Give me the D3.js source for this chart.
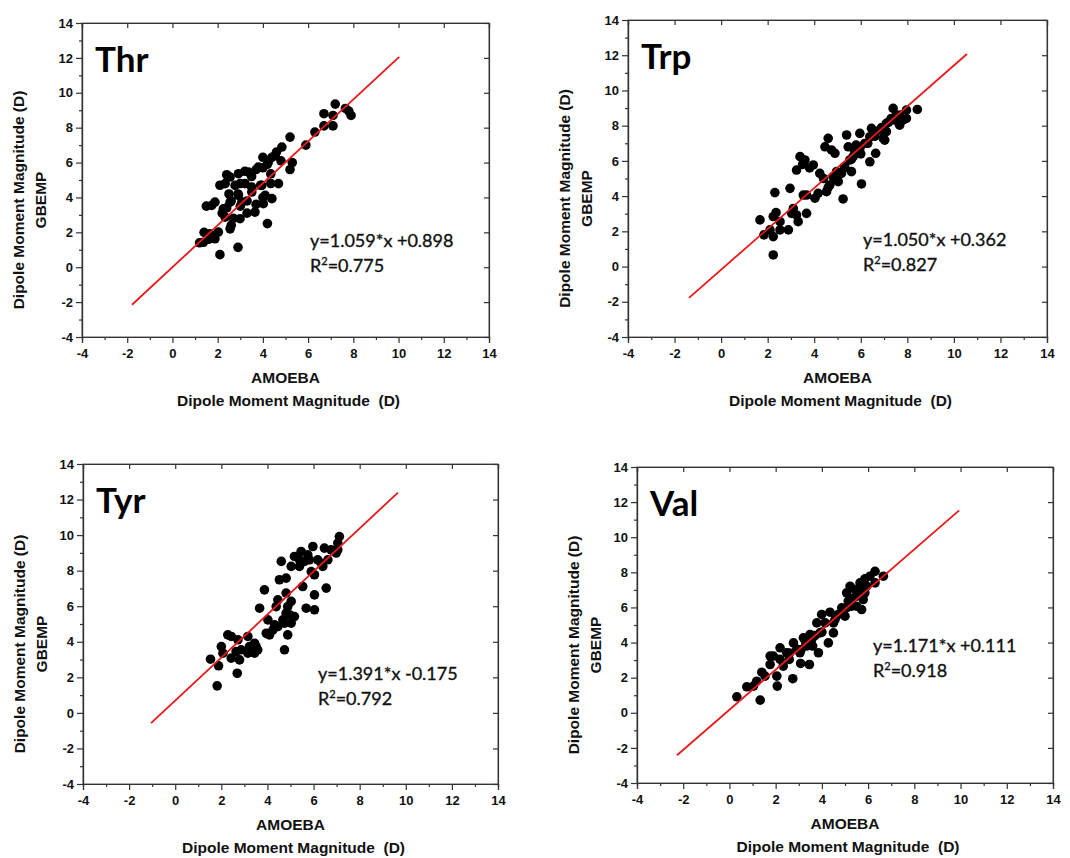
<!DOCTYPE html>
<html>
  <head><meta charset="utf-8"></head>
  <script src="https://d3js.org/d3.v7.min.js" type="text/JavaScript"></script>
  <body style="margin:0;background:#fff">
    <svg></svg>
    <script>
// residue names, one per panel
var residues = ['Thr', 'Trp', 'Tyr', 'Val'];

// AMOEBA (x) vs GBEMP (y) dipole magnitudes
var thrPoints = [
  [1.37,1.43],[1.66,1.91],[1.88,1.63],[2.03,2.01],[2.55,2.2],[2.1,0.72],[2.9,1.14],[2.33,2.87],[2.99,2.78],[4.2,2.5],
  [1.5,3.5],[1.74,3.54],[1.88,3.73],[2.25,3.35],[2.55,3.73],[3.07,3.73],[3.65,3.16],[4.02,3.64],[4.4,3.93],
  [2.92,4.12],[3.51,4.31],[4.1,4.12],[2.33,4.79],[2.77,4.69],[3.21,4.79],[3.95,4.69],[4.69,4.79],
  [2.1,4.7],[2.55,5.17],[2.92,5.36],[3.36,5.45],[3.8,5.74],[4.24,6.03],[4.54,6.41],[4.84,6.89],[4.6,6.6],[4.8,6.1],
  [5.2,7.46],[5.3,6.0],[5.2,5.6],[5.9,7.0],[6.3,7.75],[6.7,8.8],[6.7,8.1],[7.1,8.1],[7.2,9.35],[7.1,8.7],[7.65,9.1],[7.8,8.95],[7.9,8.7],
  [1.2,1.4],[1.4,2.0],[1.6,1.6],[2.6,2.4],[2.7,2.8],[2.2,3.1],[2.4,3.4],[3.0,3.5],[3.3,3.1],[3.3,3.8],[3.5,5.2],[3.5,4.6],
  [3.9,4.7],[4.0,6.3],[4.2,5.9],[4.35,5.35],[4.35,4.8],[4.0,4.0],[3.7,3.6],[2.6,3.8],[2.5,4.2],[2.9,4.2],[3.0,4.8],
  [3.2,5.5],[2.4,5.3],[3.7,5.6],[4.0,5.7],[4.4,6.3]
];
var trpPoints = [
  [1.67,2.65],[1.84,1.8],[2.1,2.08],[2.24,1.7],[2.31,4.2],[2.24,2.84],[2.36,3.06],[2.24,0.66],[2.53,2.55],[2.53,2.08],
  [2.89,2.08],[2.96,4.44],[3.1,3.3],[3.03,3.02],[3.31,2.55],[3.24,2.93],[3.24,5.48],[3.39,6.24],[3.6,6.05],[3.67,4.06],
  [3.67,3.02],[3.53,4.06],[3.96,5.77],[4.03,3.88],[4.17,4.16],[4.24,5.29],[4.46,6.8],[4.6,7.28],[4.74,6.62],[4.89,6.43],
  [4.53,4.25],[4.67,4.63],[4.81,5.1],[4.96,5.39],[5.03,4.82],[5.17,5.29],[5.31,5.67],[5.24,3.84],[5.39,7.47],[5.46,6.8],
  [5.53,6.05],[5.6,5.39],[5.67,6.24],[5.74,6.52],[5.96,7.56],[6.03,4.69],[5.96,6.71],[6.17,6.99],[6.39,7.37],[6.46,7.85],
  [6.39,5.95],[6.64,6.43],[6.81,7.75],[6.96,7.28],[7.03,7.18],[7.1,8.13],[7.31,8.41],[7.39,8.98],[7.53,8.6],[7.67,8.03],
  [7.81,8.32],[7.96,8.88],[7.96,8.41],[8.43,8.92],[7.1,7.66],
  [5.0,4.9],[5.3,5.6],[5.6,6.1],[6.0,6.4],[6.3,7.0],[6.6,7.4],[6.9,7.9],[7.2,8.2],[7.5,8.3],[7.7,8.6],[5.8,6.9],
  [4.4,5.0],[4.6,4.5],[3.5,5.8],[3.8,5.6]
];
var tyrPoints = [
  [1.53,3.02],[1.82,1.52],[1.88,2.65],[2.0,3.73],[2.07,3.36],[2.28,4.39],[2.43,4.3],[2.43,3.08],[2.64,3.45],[2.72,4.11],
  [2.69,2.23],[2.79,2.98],[2.86,3.55],[3.15,4.3],[3.22,3.73],[3.44,3.92],[3.44,3.36],[3.51,3.73],[3.58,3.55],[3.66,5.89],
  [3.87,6.92],[4.02,5.23],[3.95,4.48],[4.09,4.39],[4.31,4.95],[4.45,6.36],[4.52,7.49],[4.6,8.52],[4.67,5.23],[4.74,3.55],
  [4.81,7.58],[4.81,6.74],[4.88,5.98],[4.96,5.52],[5.03,6.27],[4.88,4.39],[5.03,8.24],[5.17,8.8],[5.17,5.42],[5.39,8.61],
  [5.46,9.08],[5.53,7.11],[5.61,8.52],[5.68,5.89],[5.75,8.89],[5.9,7.95],[5.97,9.36],[6.04,6.64],[6.04,5.8],[6.18,8.61],
  [6.33,8.42],[6.4,8.24],[6.47,9.27],[6.55,7.02],[6.62,8.61],[6.76,9.17],[6.98,8.99],[7.05,9.55],[7.12,9.92],[7.05,9.17],
  [6.04,7.77],[5.82,8.61],[5.39,8.24],[4.45,4.86],[4.24,4.67],[4.38,5.98],[4.81,5.61],[5.03,5.05],[4.74,5.05],[3.15,3.36]
];
var valPoints = [
  [0.32,0.91],[0.75,1.48],[1.33,0.72],[1.18,1.8],[1.4,2.31],[1.76,3.23],[1.76,2.75],[1.9,3.23],[2.07,1.52],[2.05,2.09],
  [2.19,3.7],[2.33,2.66],[2.48,3.42],[2.59,3.04],[2.74,1.94],[2.77,3.98],[2.91,3.61],[3.08,2.81],[3.2,4.27],[3.34,3.8],
  [3.46,2.75],[3.49,4.46],[3.56,4.17],[3.78,5.12],[3.85,3.42],[3.92,4.55],[3.99,5.6],[4.14,5.12],[4.28,3.98],[4.35,5.73],
  [4.5,4.55],[4.57,5.31],[4.71,5.6],[4.86,5.98],[5.0,5.5],[5.07,6.83],[5.14,6.36],[5.22,7.21],[5.29,6.07],[5.43,7.02],
  [5.5,6.64],[5.65,7.4],[5.72,5.88],[5.79,6.45],[5.86,7.63],[5.94,7.21],[6.08,7.78],[6.3,8.06],[6.3,7.4],[6.66,7.78],
  [5.86,6.83],[5.5,6.07],[4.5,5.12],[3.6,3.8],[3.05,3.42],[2.19,3.04],[1.54,2.09],[1.04,1.52],
  [4.0,4.6],[4.6,5.5],[5.1,6.0],[5.3,6.5],[5.6,7.0],[3.3,4.0],[2.6,3.4],[3.1,3.6],[3.7,4.4]
];
var allPoints = [thrPoints, trpPoints, tyrPoints, valPoints];

// fitted line as drawn: x0, y0, x1, y1
var fitLines = [
  [-1.79, -2.15, 10.03, 12.06],
  [-1.38, -1.78, 10.56, 12.07],
  [-1.05, -0.58, 9.66, 12.39],
  [-2.27, -2.42, 9.94, 11.53]
];
var equations = ['y=1.059*x +0.898', 'y=1.050*x +0.362', 'y=1.391*x -0.175', 'y=1.171*x +0.111'];
var r2Values = ['0.775', '0.827', '0.792', '0.918'];

var xTicks = [-4, -2, 0, 2, 4, 6, 8, 10, 12, 14];
var yTicks = [-4, -2, 0, 2, 4, 6, 8, 10, 12, 14];
var minorTicks = [-3, -1, 1, 3, 5, 7, 9, 11, 13];
var domain = [-4, 14];

// where each panel sits on the page
var frames = [
  {left: 82,  top: 23,  right: 489,  bottom: 337, eqX: 228, eqY: 224},
  {left: 628, top: 20,  right: 1047, bottom: 337, eqX: 235, eqY: 226},
  {left: 83,  top: 464, right: 498,  bottom: 784, eqX: 235, eqY: 216},
  {left: 637, top: 467, right: 1053, bottom: 783, eqX: 236, eqY: 185}
];

var svg = d3.select('svg')
  .attr('width', 1070)
  .attr('height', 858)
  .style('display', 'block');

svg.append('rect').attr('width', 1070).attr('height', 858).attr('fill', '#fff');

var tickFont = 'Liberation Sans, Arial, sans-serif';
var label = d => String(d);   // plain hyphen minus, as in the figure

residues.forEach((name, i) => {
  var f = frames[i];
  var w = f.right - f.left, h = f.bottom - f.top;
  var x = d3.scaleLinear().domain(domain).range([0, w]);
  var y = d3.scaleLinear().domain(domain).range([h, 0]);

  var g = svg.append('g').attr('transform', `translate(${f.left},${f.top})`);

  // frame
  g.append('rect').attr('width', w).attr('height', h)
    .attr('fill', 'none').attr('stroke', '#777').attr('stroke-width', 1.2);

  // bottom / left: outward ticks
  g.append('g').attr('transform', `translate(0,${h})`)
    .call(d3.axisBottom(x).tickValues(xTicks).tickSize(6).tickPadding(6).tickFormat(label));
  g.append('g').attr('transform', `translate(0,${h})`)
    .call(d3.axisBottom(x).tickValues(minorTicks).tickSize(3).tickFormat(''));
  g.append('g')
    .call(d3.axisLeft(y).tickValues(yTicks).tickSize(6).tickPadding(3).tickFormat(label));
  g.append('g')
    .call(d3.axisLeft(y).tickValues(minorTicks).tickSize(3).tickFormat(''));

  // top / right: inward ticks
  g.append('g')
    .call(d3.axisBottom(x).tickValues(xTicks).tickSize(5).tickFormat(''));
  g.append('g').attr('transform', `translate(${w},0)`)
    .call(d3.axisLeft(y).tickValues(yTicks).tickSize(5).tickFormat(''));

  g.selectAll('.domain').attr('stroke', '#333').attr('stroke-width', 1.2);
  g.selectAll('.tick line').attr('stroke', '#333').attr('stroke-width', 1.2);
  g.selectAll('.tick text')
    .attr('font-family', tickFont).attr('font-weight', 'bold')
    .attr('font-size', 13).attr('fill', '#111');

  // points
  g.selectAll('circle.pt')
    .data(allPoints[i])
    .enter()
    .append('circle')
      .attr('class', 'pt')
      .attr('cx', d => x(d[0]))
      .attr('cy', d => y(d[1]))
      .attr('r', 4.8)
      .attr('fill', '#000');

  // fit line
  var L = fitLines[i];
  g.append('line')
    .attr('x1', x(L[0])).attr('y1', y(L[1]))
    .attr('x2', x(L[2])).attr('y2', y(L[3]))
    .attr('stroke', '#e8191b').attr('stroke-width', 1.8);

  // residue label
  g.append('text')
    .attr('x', 13).attr('y', 49)
    .attr('font-family', 'Lato, Open Sans, sans-serif')
    .attr('font-weight', 'bold').attr('font-size', 35)
    .text(name);

  // equation and R2
  var eqStyle = sel => sel
    .attr('font-family', 'Lato, Open Sans, sans-serif')
    .attr('font-size', 18).attr('fill', '#111')
    .attr('stroke', '#111').attr('stroke-width', 0.35);
  g.append('text')
    .attr('x', f.eqX).attr('y', f.eqY)
    .call(eqStyle)
    .text(equations[i]);
  var r2 = g.append('text')
    .attr('x', f.eqX).attr('y', f.eqY + 25)
    .call(eqStyle);
  r2.append('tspan').text('R');
  r2.append('tspan').attr('font-size', 11).attr('dy', -7).text('2');
  r2.append('tspan').attr('dy', 7).text('=' + r2Values[i]);

  // axis titles
  g.append('text')
    .attr('x', w / 2).attr('y', h + 46)
    .attr('text-anchor', 'middle')
    .attr('font-family', tickFont).attr('font-weight', 'bold').attr('font-size', 15.5)
    .attr('fill', '#111')
    .text('AMOEBA');
  g.append('text')
    .attr('x', w / 2 + 3).attr('y', h + 69)
    .attr('text-anchor', 'middle')
    .attr('font-family', tickFont).attr('font-weight', 'bold').attr('font-size', 15.5)
    .attr('fill', '#111')
    .attr('xml:space', 'preserve')
    .text('Dipole Moment Magnitude  (D)');

  g.append('text')
    .attr('transform', `translate(-58,${h / 2 + 20}) rotate(-90)`)
    .attr('text-anchor', 'middle')
    .attr('font-family', tickFont).attr('font-weight', 'bold').attr('font-size', 15.5)
    .attr('fill', '#111')
    .text('Dipole Moment Magnitude (D)');
  g.append('text')
    .attr('transform', `translate(-36,${h / 2 + 20}) rotate(-90)`)
    .attr('text-anchor', 'middle')
    .attr('font-family', tickFont).attr('font-weight', 'bold').attr('font-size', 15.5)
    .attr('fill', '#111')
    .text('GBEMP');
});
    </script>
  </body>
</html>
